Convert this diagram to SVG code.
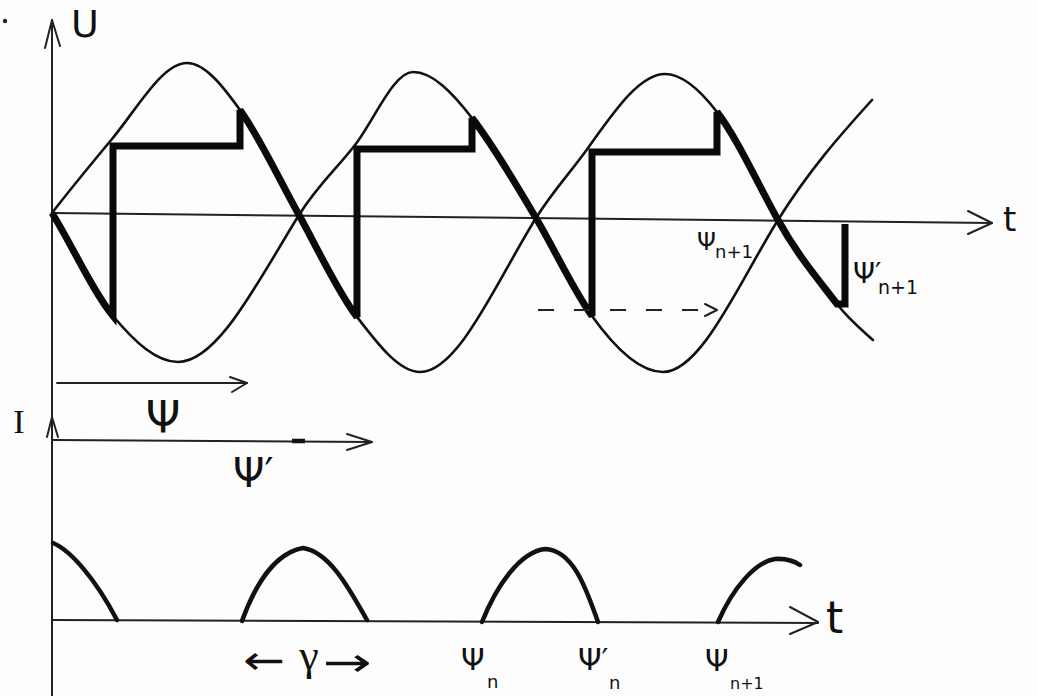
<svg xmlns="http://www.w3.org/2000/svg" width="1037" height="696" viewBox="0 0 1037 696">
<style>
.bg{fill:#fdfdfd}
.thin{fill:none;stroke:#111;stroke-width:2.6;stroke-linecap:round;stroke-linejoin:round}
.axis{fill:none;stroke:#222;stroke-width:2;stroke-linecap:round;stroke-linejoin:round}
.thick{fill:none;stroke:#0a0a0a;stroke-width:7;stroke-linejoin:miter;stroke-miterlimit:3;stroke-linecap:butt}
.pulse{fill:none;stroke:#111;stroke-width:4.5;stroke-linecap:round;stroke-linejoin:round}
.dash{fill:none;stroke:#222;stroke-width:2.2;stroke-dasharray:16 20}
.lbl{font-family:"DejaVu Sans","Liberation Sans",sans-serif;fill:#111}
.ser{font-family:"Liberation Serif","DejaVu Serif",serif;fill:#111}
</style>
<rect class="bg" x="0" y="0" width="1037" height="696"/>
<circle cx="5" cy="21" r="2.2" fill="#222"/>

<g id="axes">
  <path class="axis" d="M52,696 L52,20"/>
  <path class="axis" d="M45,48 L52,20 L60,46"/>
  <path class="axis" d="M47,437 L52,417 L58,437"/>
  <path class="axis" d="M52,213 L992,223"/>
  <path class="axis" d="M968,211 L992,223 L968,234"/>
  <path class="axis" d="M52,620 L818,623"/>
  <path class="axis" d="M790,607 L818,622 L790,634"/>
</g>

<g id="voltage-curves">
  <path id="curve1" class="thin" d="M52,213 C72,187 92,163 112,139 C137,109 162,63 187,63 C204.7,63 222.3,85.3 240,110 C259.7,137.5 279.3,179.6 299,215 C318.3,249.8 337.7,291.9 357,317 C378,344.3 399,372 420,372 C458.7,372 497.3,279.9 536,218 C553.3,190.3 570.7,172.3 588,148 C613.7,112.1 639.3,74 665,74 C682.3,74 699.7,89.5 717,112 C737.3,138.4 757.7,183.4 778,220 C797.7,255.4 817.3,278.4 837,304 C849,319.6 861,329.2 873,340"/>
  <path id="curve2" class="thin" d="M52,213 C72.3,245.5 92.7,291.6 113,316 C134.7,342 156.3,362 178,362 C218.3,362 258.7,279.5 299,215 C317.7,185.1 336.3,169.3 355,145 C374.3,119.9 393.7,72 413,72 C432.7,72 452.3,92.4 472,118 C493.3,145.7 514.7,181.7 536,218 C554.7,249.7 573.3,289.9 592,316 C615.7,349.1 639.3,372 663,372 C701.3,372 739.7,281.3 778,220 C809.3,169.9 840.7,134.5 872,100"/>
</g>

<g id="output-waveform">
  <path class="thick" d="M52,213 C72.3,245.5 92.7,291.6 113,316 L113,146 L240,146 L240,110 C259.7,137.5 279.3,179.6 299,215 C318.3,249.8 337.7,291.9 357,317 L357,149 L472,149 L472,118 C493.3,145.7 514.7,181.7 536,218 C554.7,249.7 573.3,289.9 592,316 L592,152 L717,152 L717,112 C737.3,138.4 757.7,183.4 778,220 C797.7,255.4 817.3,278.4 837,304 L845,304 L845,224"/>
</g>

<g id="connectors">
  <path class="axis" d="M57,383 L247,383"/>
  <path class="axis" d="M230,377 L247,383 L232,392"/>
  <path class="axis" d="M53,440 L372,442"/>
  <path class="axis" d="M347,434 L372,442 L347,450"/>
  <path d="M292,441 L305,441" stroke="#111" stroke-width="4.5"/>
  <path class="dash" d="M538,310 L712,310"/>
  <path class="axis" d="M705,304 L717,310 L705,316"/>
</g>

<g id="current-pulses">
  <path class="pulse" d="M53,543 C70,550 95,578 117,620"/>
  <path class="pulse" d="M242,621 C255,585 275,553 303,548 C330,552 350,590 367,620"/>
  <path class="pulse" d="M482,622 C497,585 520,552 545,549 C575,550 588,595 598,622"/>
  <path class="pulse" d="M718,622 C733,588 755,562 775,559 Q790,558 800,565"/>
</g>

<g id="labels">
  <text class="lbl" x="85" y="37" font-size="38" text-anchor="middle">U</text>
  <text class="lbl" x="1003" y="231" font-size="34">t</text>
  <text class="lbl" x="826" y="633" font-size="44">t</text>
  <text class="ser" x="19" y="433" font-size="34" text-anchor="middle">I</text>
  <text class="lbl" x="163" y="433" font-size="44" text-anchor="middle">Ψ</text>
  <text class="lbl" x="233" y="487" font-size="40">Ψ′</text>
  <text class="lbl" x="697" y="250" font-size="24">Ψ</text>
  <text class="lbl" x="715" y="258" font-size="18">n+1</text>
  <text class="lbl" x="853" y="283" font-size="28">Ψ′</text>
  <text class="lbl" x="878" y="294" font-size="19">n+1</text>
  <text class="lbl" x="243" y="674" font-size="40" textLength="42" lengthAdjust="spacingAndGlyphs">←</text>
  <text class="ser" x="309" y="670" font-size="44" text-anchor="middle">γ</text>
  <text class="lbl" x="323" y="676" font-size="40" textLength="49" lengthAdjust="spacingAndGlyphs">→</text>
  <text class="lbl" x="461" y="670" font-size="30">Ψ</text>
  <text class="lbl" x="487" y="688" font-size="18">n</text>
  <text class="lbl" x="578" y="670" font-size="30">Ψ′</text>
  <text class="lbl" x="609" y="689" font-size="18">n</text>
  <text class="lbl" x="705" y="671" font-size="30">Ψ</text>
  <text class="lbl" x="730" y="689" font-size="16">n+1</text>
</g>
</svg>
